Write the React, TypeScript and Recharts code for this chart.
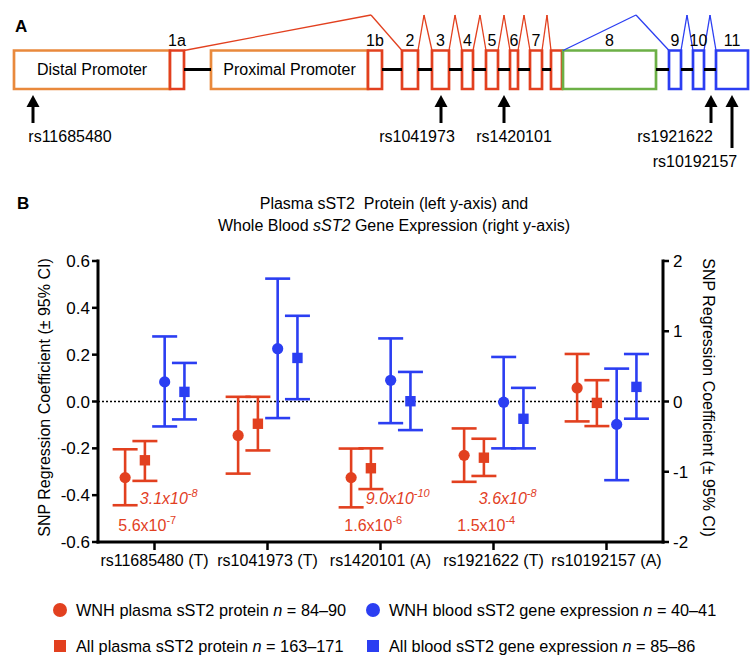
import React from 'react';
import {
  ComposedChart,
  Scatter,
  XAxis,
  YAxis,
  ErrorBar,
  ReferenceLine,
  ReferenceArea,
  ReferenceDot,
  Legend,
} from 'recharts';

const FONT = '"Liberation Sans", Arial, Helvetica, sans-serif';
const RED = '#E2401F';
const BLUE = '#2B3EF2';
const ORANGE = '#E9893C';
const GREEN = '#6CB046';

// ---------------- Panel A: gene structure (diagram units along the gene) ----------------
const featureLabels = ['Distal Promoter', '1a', 'Proximal Promoter', '1b', '2', '3', '4', '5', '6', '7', '', '8', '9', '10', '11'];
const featureStarts = [14, 170, 211, 368, 402, 432, 462, 486, 510, 530, 551, 563, 669, 693, 716];
const featureEnds = [170, 184, 368, 382, 418, 449, 473, 498, 518, 542, 562, 656, 681, 704, 748];
const featureTypes = ['promoter', 'red', 'promoter', 'red', 'red', 'red', 'red', 'red', 'red', 'red', 'red', 'green', 'blue', 'blue', 'blue'];

const spliceFrom = [184, 418, 449, 473, 498, 518, 542, 563, 681, 704];
const splicePeak = [371, 424, 455, 480, 504, 524, 547, 636, 687, 710];
const spliceTo = [402, 432, 462, 486, 510, 530, 551, 669, 693, 716];
const spliceTypes = ['red', 'red', 'red', 'red', 'red', 'red', 'red', 'blue', 'blue', 'blue'];

const snpIds = ['rs11685480', 'rs1041973', 'rs1420101', 'rs1921622', 'rs10192157'];
const snpLocations = [33, 441, 504, 711, 732];
const snpLabelCenters = [70, 417, 514, 675, 695];
const snpLabelRows = [0, 0, 0, 0, 1];

// vertical levels of the diagram
const Y_TOP = 50.5;
const Y_BOTTOM = 89;
const Y_MID = 69.5;
const Y_PEAK = 15;
const ARROW_TIP = 95;
const ARROW_END = [123, 148];
const SNP_LABEL_BASE = [142, 167];

// ---------------- Panel B: regression coefficients ----------------
const categories = ['rs11685480 (T)', 'rs1041973 (T)', 'rs1420101 (A)', 'rs1921622 (T)', 'rs10192157 (A)'];

const wnhPlasmaMean = [-0.325, -0.145, -0.325, -0.23, 0.058];
const wnhPlasmaLow = [-0.443, -0.308, -0.452, -0.343, -0.085];
const wnhPlasmaHigh = [-0.204, 0.02, -0.201, -0.115, 0.203];

const allPlasmaMean = [-0.251, -0.095, -0.285, -0.24, -0.006];
const allPlasmaLow = [-0.339, -0.209, -0.374, -0.318, -0.105];
const allPlasmaHigh = [-0.169, 0.02, -0.2, -0.159, 0.091];

const wnhBloodMean = [0.279, 0.752, 0.302, -0.01, -0.326];
const wnhBloodLow = [-0.355, -0.236, -0.308, -0.667, -1.12];
const wnhBloodHigh = [0.926, 1.749, 0.898, 0.634, 0.468];

const allBloodMean = [0.137, 0.62, 0.004, -0.246, 0.208];
const allBloodLow = [-0.255, 0.033, -0.407, -0.667, -0.245];
const allBloodHigh = [0.549, 1.22, 0.421, 0.194, 0.676];

const leftTicks = [-0.6, -0.4, -0.2, 0, 0.2, 0.4, 0.6];
const rightTicks = [-2, -1, 0, 1, 2];

// p-value annotations
const pCategory = [0, 0, 2, 2, 3, 3];
const pMantissa = ['3.1', '5.6', '9.0', '1.6', '3.6', '1.5'];
const pExponent = ['-8', '-7', '-10', '-6', '-8', '-4'];
const pItalic = [true, false, true, false, true, false];
const P_ROW_Y_ITALIC = -0.438;
const P_ROW_Y_PLAIN = -0.552;
const P_SHIFT_ITALIC = -0.13;
const P_SHIFT_PLAIN = -0.32;

const legendLabels = ['WNH plasma sST2 protein', 'All plasma sST2 protein', 'WNH blood sST2 gene expression', 'All blood sST2 gene expression'];
const legendN = ['84–90', '163–171', '40–41', '85–86'];

const series = [
  { key: 'wnhPlasma', mean: wnhPlasmaMean, low: wnhPlasmaLow, high: wnhPlasmaHigh, color: RED, shape: 'circle', axis: 'left', shift: -0.26 },
  { key: 'allPlasma', mean: allPlasmaMean, low: allPlasmaLow, high: allPlasmaHigh, color: RED, shape: 'square', axis: 'left', shift: -0.085 },
  { key: 'wnhBlood', mean: wnhBloodMean, low: wnhBloodLow, high: wnhBloodHigh, color: BLUE, shape: 'circle', axis: 'right', shift: 0.09 },
  { key: 'allBlood', mean: allBloodMean, low: allBloodLow, high: allBloodHigh, color: BLUE, shape: 'square', axis: 'right', shift: 0.265 },
];

const typeColor = (t: string) =>
  t === 'promoter' ? ORANGE : t === 'green' ? GREEN : t === 'blue' ? BLUE : RED;

function GenePanel() {
  const connectors: { a: number; b: number }[] = [];
  for (let i = 0; i < featureStarts.length - 1; i++) {
    if (featureStarts[i + 1] - featureEnds[i] > 2) connectors.push({ a: featureEnds[i], b: featureStarts[i + 1] });
  }
  const textStyle = { fontFamily: FONT, fontSize: 16, fill: '#000' };
  const headData = snpIds.map((id, i) => ({ x: snpLocations[i], y: ARROW_TIP, id }));
  const labelData = snpIds.map((id, i) => ({ x: snpLabelCenters[i], y: SNP_LABEL_BASE[snpLabelRows[i]], id }));
  return (
    <ComposedChart width={754} height={180} margin={{ top: 0, right: 0, bottom: 0, left: 0 }}>
      <XAxis xAxisId="g" type="number" dataKey="x" domain={[0, 754]} hide allowDataOverflow />
      <YAxis yAxisId="g" type="number" dataKey="y" domain={[0, 180]} reversed hide allowDataOverflow />
      {connectors.map((c, i) => (
        <ReferenceLine
          key={'c' + i}
          xAxisId="g"
          yAxisId="g"
          segment={[{ x: c.a, y: Y_MID }, { x: c.b, y: Y_MID }]}
          stroke="#000"
          strokeWidth={3}
          ifOverflow="visible"
        />
      ))}
      {spliceFrom.map((f, i) => [
        <ReferenceLine
          key={'s1' + i}
          xAxisId="g"
          yAxisId="g"
          segment={[{ x: f, y: Y_TOP }, { x: splicePeak[i], y: Y_PEAK }]}
          stroke={typeColor(spliceTypes[i])}
          strokeWidth={1.3}
          ifOverflow="visible"
        />,
        <ReferenceLine
          key={'s2' + i}
          xAxisId="g"
          yAxisId="g"
          segment={[{ x: splicePeak[i], y: Y_PEAK }, { x: spliceTo[i], y: Y_TOP }]}
          stroke={typeColor(spliceTypes[i])}
          strokeWidth={1.3}
          ifOverflow="visible"
        />,
      ])}
      {featureStarts.map((s, i) => (
        <ReferenceArea
          key={'f' + i}
          xAxisId="g"
          yAxisId="g"
          x1={s}
          x2={featureEnds[i]}
          y1={Y_TOP}
          y2={Y_BOTTOM}
          fill="#fff"
          fillOpacity={1}
          stroke={typeColor(featureTypes[i])}
          strokeWidth={2.7}
          ifOverflow="visible"
          label={
            featureLabels[i]
              ? {
                  value: featureLabels[i],
                  position: featureTypes[i] === 'promoter' ? 'center' : 'top',
                  offset: 4.5,
                  style: textStyle,
                }
              : undefined
          }
        />
      ))}
      {snpIds.map((id, i) => (
        <ReferenceLine
          key={'sh' + i}
          xAxisId="g"
          yAxisId="g"
          segment={[{ x: snpLocations[i], y: ARROW_TIP + 8 }, { x: snpLocations[i], y: ARROW_END[snpLabelRows[i]] }]}
          stroke="#000"
          strokeWidth={3}
          ifOverflow="visible"
        />
      ))}
      <Scatter
        data={headData}
        xAxisId="g"
        yAxisId="g"
        isAnimationActive={false}
        shape={(p: any) => (
          <polygon points={`${p.cx},${p.cy} ${p.cx - 6.5},${p.cy + 12} ${p.cx + 6.5},${p.cy + 12}`} fill="#000" />
        )}
      />
      <Scatter
        data={labelData}
        xAxisId="g"
        yAxisId="g"
        isAnimationActive={false}
        shape={(p: any) => (
          <text x={p.cx} y={p.cy} textAnchor="middle" fontFamily={FONT} fontSize={16} fill="#000">
            {p.payload?.id}
          </text>
        )}
      />
    </ComposedChart>
  );
}

function LegendContent() {
  const colX = [53, 366];
  return (
    <div style={{ position: 'relative', width: 754, height: 72, fontFamily: FONT, fontSize: 16.3, color: '#000' }}>
      {series.map((s, k) => {
        const col = Math.floor(k / 2);
        const row = k % 2;
        return (
          <div
            key={s.key}
            style={{
              position: 'absolute',
              left: colX[col],
              top: row * 36,
              height: 36,
              display: 'flex',
              alignItems: 'center',
              whiteSpace: 'nowrap',
            }}
          >
            <span style={{ width: 14, height: 14, display: 'inline-flex', alignItems: 'center', justifyContent: 'center', marginRight: 9 }}>
              <span
                style={{
                  width: s.shape === 'circle' ? 14 : 12,
                  height: s.shape === 'circle' ? 14 : 12,
                  borderRadius: s.shape === 'circle' ? '50%' : 0,
                  background: s.color,
                  display: 'block',
                }}
              />
            </span>
            <span>
              {legendLabels[k]} <i>n</i> = {legendN[k]}
            </span>
          </div>
        );
      })}
    </div>
  );
}

function EffectPanel() {
  const axisLine = { stroke: '#000', strokeWidth: 3, strokeLinecap: 'square' as const };
  const tickLine = { stroke: '#000', strokeWidth: 2.5 };
  const labelText = { fontFamily: FONT, fontSize: 16, fill: '#000' };
  return (
    <ComposedChart width={754} height={486} margin={{ top: 81, right: 41, bottom: 94, left: 38 }}>
      <XAxis
        xAxisId="x"
        type="number"
        dataKey="x"
        domain={[0, categories.length]}
        ticks={categories.map((_, i) => i + 0.5)}
        tickFormatter={(v: number) => categories[Math.floor(v)]}
        interval={0}
        allowDataOverflow
        height={30}
        axisLine={axisLine}
        tickLine={tickLine}
        tickSize={8}
        tickMargin={5}
        tick={{ fill: '#000', fontSize: 16, fontFamily: FONT }}
      />
      <YAxis
        yAxisId="left"
        type="number"
        dataKey="y"
        domain={[-0.6, 0.6]}
        ticks={leftTicks}
        tickFormatter={(v: number) => v.toFixed(1)}
        allowDataOverflow
        width={60}
        axisLine={axisLine}
        tickLine={tickLine}
        tickSize={6}
        tickMargin={2}
        tick={{ fill: '#000', fontSize: 17, fontFamily: FONT }}
        label={{
          value: 'SNP Regression Coefficient (± 95% CI)',
          angle: -90,
          position: 'center',
          dx: -24,
          dy: -4,
          style: labelText,
        }}
      />
      <YAxis
        yAxisId="right"
        orientation="right"
        type="number"
        dataKey="y"
        domain={[-2, 2]}
        ticks={rightTicks}
        allowDataOverflow
        width={50}
        axisLine={axisLine}
        tickLine={tickLine}
        tickSize={6}
        tickMargin={4}
        tick={{ fill: '#000', fontSize: 17, fontFamily: FONT }}
        label={{
          value: 'SNP Regression Coefficient (± 95% CI)',
          angle: 90,
          position: 'center',
          dx: 21,
          dy: -4,
          style: labelText,
        }}
      />
      <ReferenceLine xAxisId="x" yAxisId="left" y={0} stroke="#000" strokeWidth={1.3} strokeDasharray="2 2" />
      {series.map((s) => {
        const data = categories.map((_, i) => ({
          x: i + 0.5 + s.shift,
          y: s.mean[i],
          err: [s.mean[i] - s.low[i], s.high[i] - s.mean[i]],
        }));
        return (
          <Scatter
            key={s.key}
            name={s.key}
            data={data}
            xAxisId="x"
            yAxisId={s.axis}
            fill={s.color}
            isAnimationActive={false}
            shape={(p: any) =>
              s.shape === 'circle' ? (
                <circle cx={p.cx} cy={p.cy} r={5.6} fill={s.color} />
              ) : (
                <rect x={p.cx - 5.2} y={p.cy - 5.2} width={10.4} height={10.4} fill={s.color} />
              )
            }
          >
            <ErrorBar dataKey="err" direction="y" width={12.5} strokeWidth={2.6} stroke={s.color} isAnimationActive={false} />
          </Scatter>
        );
      })}
      {pMantissa.map((m, k) => (
        <ReferenceDot
          key={'p' + k}
          xAxisId="x"
          yAxisId="left"
          x={pCategory[k] + 0.5 + (pItalic[k] ? P_SHIFT_ITALIC : P_SHIFT_PLAIN)}
          y={pItalic[k] ? P_ROW_Y_ITALIC : P_ROW_Y_PLAIN}
          r={0}
          ifOverflow="visible"
          shape={(p: any) => (
            <text
              x={p.cx}
              y={p.cy}
              fontFamily={FONT}
              fontSize={16}
              fill={RED}
              fontStyle={pItalic[k] ? 'italic' : 'normal'}
              textAnchor="start"
            >
              <tspan>{m}x10</tspan>
              <tspan dy={-7} fontSize={11}>
                {pExponent[k]}
              </tspan>
            </text>
          )}
        />
      ))}
      <Legend
        layout="horizontal"
        verticalAlign="middle"
        align="center"
        wrapperStyle={{ top: 412, left: 0, width: 754, height: 72 }}
        content={() => <LegendContent />}
      />
    </ComposedChart>
  );
}

export default function App() {
  return (
    <div style={{ position: 'absolute', left: 0, top: 0, width: 754, height: 666, background: '#fff', fontFamily: FONT, color: '#000' }}>
      <div style={{ position: 'absolute', left: 0, top: 0 }}>
        <GenePanel />
      </div>
      <div style={{ position: 'absolute', left: 0, top: 180 }}>
        <EffectPanel />
      </div>
      <div style={{ position: 'absolute', left: 15, top: 17.6, fontSize: 17, lineHeight: '17px', fontWeight: 'bold' }}>A</div>
      <div style={{ position: 'absolute', left: 17, top: 194.6, fontSize: 17, lineHeight: '17px', fontWeight: 'bold' }}>B</div>
      <div
        style={{
          position: 'absolute',
          left: 194,
          width: 400,
          top: 192.5,
          fontSize: 16,
          lineHeight: '22px',
          textAlign: 'center',
          whiteSpace: 'nowrap',
        }}
      >
        <div>Plasma sST2&nbsp; Protein (left y-axis) and</div>
        <div>
          Whole Blood <i>sST2</i> Gene Expression (right y-axis)
        </div>
      </div>
    </div>
  );
}
